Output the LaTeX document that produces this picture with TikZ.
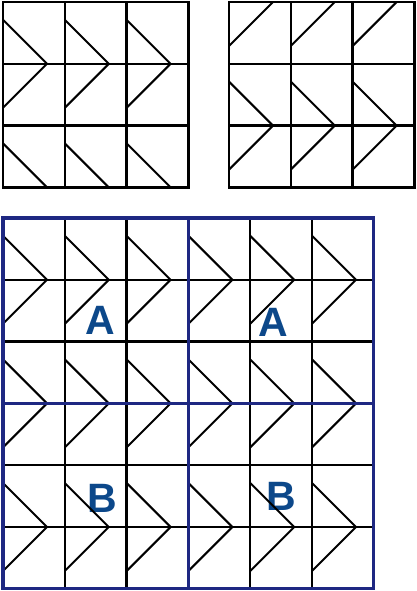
\documentclass[tikz,border=0pt]{standalone}
\usepackage{fontspec}
\setmainfont{Liberation Sans}
\definecolor{gridblue}{RGB}{30,40,130}
\definecolor{labelblue}{RGB}{12,72,138}
\begin{document}
\begin{tikzpicture}[x=1pt,y=-1pt,
  gridline/.style={black,line width=2.3pt,line cap=rect},
  diag/.style={black,line width=2pt},
  frame/.style={gridblue,line width=3.3pt,line cap=rect},
  lbl/.style={text=labelblue,font=\bfseries\fontsize{41}{41}\selectfont,inner sep=0pt}]
\useasboundingbox (0,0) rectangle (417,591);
\def\s{61.8}
\def\d{44}
% labels (under the lines)
\node[lbl] (A1) at (100.5,320.5) {A};
\node[lbl] (A2) at (273.7,322.5) {A};
\node[lbl] (B1) at (102.5,498.5) {B};
\node[lbl] (B2) at (281,496.5) {B};
% top-left grid
\begin{scope}[shift={(3,2)}]
  \foreach \i in {0,...,3} {
    \draw[gridline] (\i*\s,0) -- (\i*\s,3*\s);
    \draw[gridline] (0,\i*\s) -- (3*\s,\i*\s);
  }
  \foreach \c in {0,1,2} {
    \draw[diag] (\c*\s,\s-\d) -- (\c*\s+\d,\s);
    \draw[diag] (\c*\s+\d,\s) -- (\c*\s,\s+\d);
    \draw[diag] (\c*\s,3*\s-\d) -- (\c*\s+\d,3*\s);
  }
\end{scope}
% top-right grid
\begin{scope}[shift={(229,2)}]
  \foreach \i in {0,...,3} {
    \draw[gridline] (\i*\s,0) -- (\i*\s,3*\s);
    \draw[gridline] (0,\i*\s) -- (3*\s,\i*\s);
  }
  \foreach \c in {0,1,2} {
    \draw[diag] (\c*\s+\d,0) -- (\c*\s,\d);
    \draw[diag] (\c*\s,2*\s-\d) -- (\c*\s+\d,2*\s);
    \draw[diag] (\c*\s+\d,2*\s) -- (\c*\s,2*\s+\d);
  }
\end{scope}
% bottom 6x6 grid
\begin{scope}[shift={(3,218)}]
  \foreach \i in {1,2,4,5} {
    \draw[gridline] (\i*\s,0) -- (\i*\s,6*\s);
    \draw[gridline] (0,\i*\s) -- (6*\s,\i*\s);
  }
  \foreach \c in {0,...,5} {
    \draw[diag] (\c*\s,\s-\d) -- (\c*\s+\d,\s);
    \draw[diag] (\c*\s+\d,\s) -- (\c*\s,\s+\d);
    \draw[diag] (\c*\s,3*\s-\d) -- (\c*\s+\d,3*\s);
    \draw[diag] (\c*\s+\d,3*\s) -- (\c*\s,3*\s+\d);
    \draw[diag] (\c*\s,5*\s-\d) -- (\c*\s+\d,5*\s);
    \draw[diag] (\c*\s+\d,5*\s) -- (\c*\s,5*\s+\d);
  }
  \draw[frame] (0,0) rectangle (6*\s,6*\s);
  \draw[frame] (3*\s,0) -- (3*\s,6*\s);
  \draw[frame] (0,3*\s) -- (6*\s,3*\s);
\end{scope}
\end{tikzpicture}
\end{document}
